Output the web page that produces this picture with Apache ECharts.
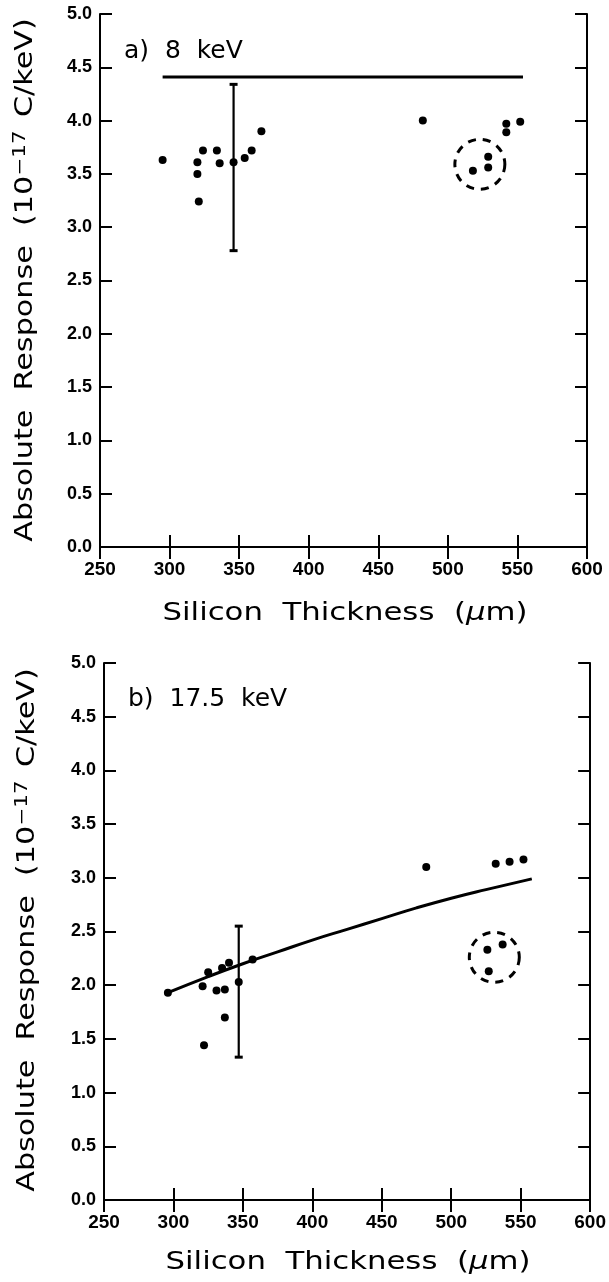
<!DOCTYPE html>
<html>
<head>
<meta charset="utf-8">
<script src="https://cdn.jsdelivr.net/npm/echarts@6/dist/echarts.min.js"></script>
<style>
  html, body { margin: 0; padding: 0; background: #fff; }
  #chart { width: 609px; height: 1282px; }
</style>
</head>
<body>
<div id="chart"></div>
<script>
// Absolute response vs silicon thickness, two beam energies

// Axis ranges and ticks
const xTicks = [250, 300, 350, 400, 450, 500, 550, 600];
const yTicks = [0, 0.5, 1, 1.5, 2, 2.5, 3, 3.5, 4, 4.5, 5];

// Panel a) 8 keV : measured points [thickness, response]
const pointsA = [
  [295, 3.63], [320, 3.61], [320, 3.50], [321, 3.24], [324, 3.72],
  [334, 3.72], [336, 3.60], [346, 3.61], [354, 3.65], [359, 3.72],
  [366, 3.90], [482, 4.00], [542, 3.97], [542, 3.89], [552, 3.99],
  [529, 3.66], [529, 3.56], [518, 3.53]
];
// representative error bar [x, low, high]
const errA = [[346, 2.78, 4.34]];
// model curve
const modelA = [[295, 4.41], [554, 4.41]];
// grouped points marked with a dashed ring [x, y]
const ringA = [[523, 3.59]];

// Panel b) 17.5 keV
const pointsB = [
  [296, 1.93], [321, 1.99], [325, 2.12], [331, 1.95], [335, 2.16],
  [337, 1.96], [340, 2.21], [337, 1.70], [322, 1.44], [347, 2.03],
  [357, 2.24], [482, 3.10], [532, 3.13], [542, 3.15], [552, 3.17],
  [526, 2.33], [537, 2.38], [527, 2.13]
];
const errB = [[347, 1.33, 2.55]];
const modelB = [
  [296, 1.93], [325, 2.08], [350, 2.20], [375, 2.31], [400, 2.42],
  [425, 2.52], [450, 2.62], [475, 2.72], [500, 2.81], [525, 2.89],
  [558, 2.99]
];
const ringB = [[531, 2.26]];

const panelTitles = ['a)  8  keV', 'b)  17.5  keV'];
const yTitle = 'Absolute  Response  (10{sup|−17} C/keV)';
const xTitle = 'Silicon  Thickness  ({mu|μ}m)';

const FONT = 'DejaVu Sans';
const TICKFONT = 'Liberation Sans';
const INK = '#000';

function xAxes(gi) {
  const base = {
    type: 'value', gridIndex: gi, min: xTicks[0], max: xTicks[xTicks.length - 1],
    interval: 50,
    axisLine: { show: true, lineStyle: { color: INK, width: 2 } },
    axisTick: { show: true, inside: true, length: 12, lineStyle: { color: INK, width: 2 } },
    splitLine: { show: false }
  };
  return [
    Object.assign({}, base, {
      position: 'bottom',
      axisLabel: { show: true, color: INK, fontFamily: TICKFONT, fontWeight: 'bold', fontSize: 19, margin: 13 }
    }),
    Object.assign({}, base, { position: 'top', axisLabel: { show: false } })
  ];
}

function yAxes(gi) {
  const base = {
    type: 'value', gridIndex: gi, min: yTicks[0], max: yTicks[yTicks.length - 1], interval: 0.5,
    axisLine: { show: true, lineStyle: { color: INK, width: 2 } },
    axisTick: { show: true, inside: true, length: 12, lineStyle: { color: INK, width: 2 } },
    splitLine: { show: false }
  };
  return [
    Object.assign({}, base, {
      position: 'left',
      axisLabel: {
        show: true, color: INK, fontFamily: TICKFONT, fontWeight: 'bold', fontSize: 18, margin: 8,
        formatter: v => v.toFixed(1)
      }
    }),
    Object.assign({}, base, { position: 'right', axisLabel: { show: false } })
  ];
}

function errorSeries(data, xi, yi) {
  return {
    type: 'custom', xAxisIndex: xi, yAxisIndex: yi, data: data,
    renderItem: (params, api) => {
      const top = api.coord([api.value(0), api.value(2)]);
      const bot = api.coord([api.value(0), api.value(1)]);
      const cap = 4;
      const ls = { stroke: INK, lineWidth: 2.2 };
      return {
        type: 'group', children: [
          { type: 'line', shape: { x1: top[0], y1: top[1], x2: bot[0], y2: bot[1] }, style: ls },
          { type: 'line', shape: { x1: top[0] - cap, y1: top[1], x2: top[0] + cap, y2: top[1] }, style: { stroke: INK, lineWidth: 3 } },
          { type: 'line', shape: { x1: bot[0] - cap, y1: bot[1], x2: bot[0] + cap, y2: bot[1] }, style: { stroke: INK, lineWidth: 3 } }
        ]
      };
    }
  };
}

function ringSeries(data, xi, yi) {
  return {
    type: 'custom', xAxisIndex: xi, yAxisIndex: yi, data: data,
    renderItem: (params, api) => {
      const c = api.coord([api.value(0), api.value(1)]);
      return {
        type: 'circle', shape: { cx: c[0], cy: c[1], r: 25 },
        style: { fill: null, stroke: INK, lineWidth: 3, lineDash: [8, 7] }
      };
    }
  };
}

function scatterSeries(data, xi, yi) {
  return {
    type: 'scatter', xAxisIndex: xi, yAxisIndex: yi, data: data,
    symbol: 'circle', symbolSize: 8, itemStyle: { color: INK, opacity: 1 }
  };
}

function lineSeries(data, xi, yi, smooth) {
  return {
    type: 'line', xAxisIndex: xi, yAxisIndex: yi, data: data, smooth: smooth,
    showSymbol: false, lineStyle: { color: INK, width: 3 }
  };
}

// stretched title text (wide plotter lettering)
function titleText(text, x, y, vertical) {
  const size = vertical ? 24 : 25;
  return {
    type: 'text', x: x, y: y,
    rotation: vertical ? Math.PI / 2 : 0,
    scaleX: vertical ? 1.26 : 1.23,
    style: {
      text: text, fill: INK, font: size + 'px "DejaVu Sans"',
      align: 'center', verticalAlign: 'middle',
      rich: {
        sup: { fontFamily: FONT, fontSize: 17, fill: INK, padding: [0, 3, 10, 0] },
        mu: { fontFamily: FONT, fontStyle: 'italic', fontSize: size, fill: INK }
      }
    }
  };
}

const chart = echarts.init(document.getElementById('chart'), null, { renderer: 'canvas' });
chart.setOption({
  backgroundColor: '#fff',
  animation: false,
  title: [
    { text: panelTitles[0], left: 119, top: 34, textStyle: { fontFamily: FONT, fontWeight: 'normal', fontSize: 25, color: INK } },
    { text: panelTitles[1], left: 123, top: 682, textStyle: { fontFamily: FONT, fontWeight: 'normal', fontSize: 25, color: INK } }
  ],
  grid: [
    { left: 100, right: 22, top: 14, height: 533 },
    { left: 104, right: 18, top: 663, height: 537 }
  ],
  xAxis: xAxes(0).concat(xAxes(1)),
  yAxis: yAxes(0).concat(yAxes(1)),
  graphic: [
    titleText(yTitle, 26, 280, true),
    titleText(yTitle, 28, 930, true),
    titleText(xTitle, 345, 613, false),
    titleText(xTitle, 348, 1262, false)
  ],
  series: [
    lineSeries(modelA, 0, 0, false),
    errorSeries(errA, 0, 0),
    ringSeries(ringA, 0, 0),
    scatterSeries(pointsA, 0, 0),
    lineSeries(modelB, 2, 2, true),
    errorSeries(errB, 2, 2),
    ringSeries(ringB, 2, 2),
    scatterSeries(pointsB, 2, 2)
  ]
});
</script>
</body>
</html>
